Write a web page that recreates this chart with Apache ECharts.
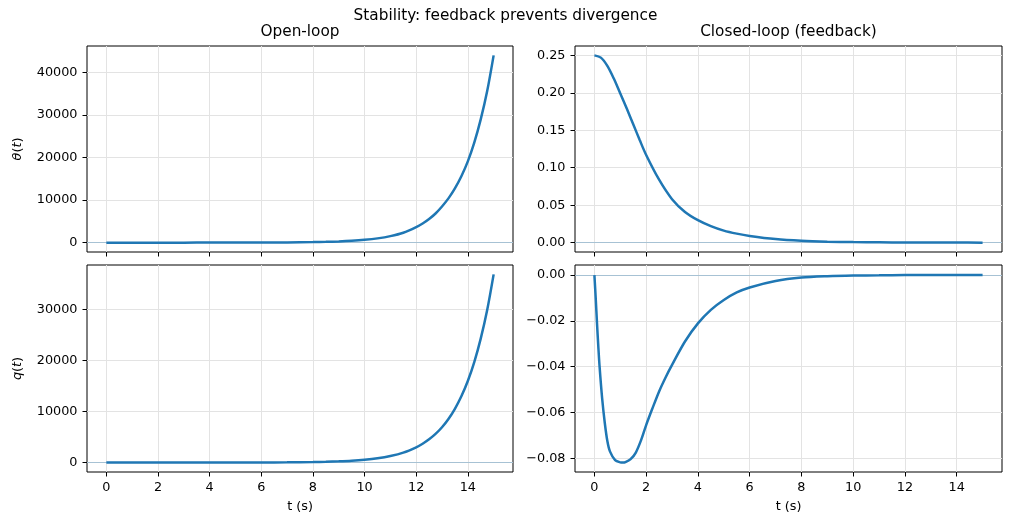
<!DOCTYPE html>
<html>
<head>
<meta charset="utf-8">
<script src="https://cdn.jsdelivr.net/npm/echarts@6/dist/echarts.min.js"></script>
<style>
html,body{margin:0;padding:0;background:#fff;}
#chart{width:1011px;height:525px;}
</style>
</head>
<body>
<div id="chart"></div>
<script>
// ---- Data ----
var OL_T = [0,1,2,3,4,5,6,7,8,8.5,9,9.5,10,10.5,11,11.5,12,12.25,12.5,12.75,13,13.25,13.5,13.75,14,14.25,14.5,14.75,15];
var OL_THETA = [0.25,0.4,0.8,1.9,4.3,10,23,53,123,187,285,434,660,1000,1530,2330,3650,4500,5550,6850,8500,10400,12750,15600,19100,23500,28950,35600,44000];
var OL_Q = [0,0.2,0.6,1.5,3.5,8,19,44,103,157,240,360,550,835,1280,1950,3000,3700,4560,5620,6930,8550,10550,13000,16000,19700,24300,29900,36900];

var CL_T_THETA = [0,0.25,0.5,0.75,1,1.25,1.5,1.75,2,2.5,3,3.5,4,4.5,5,5.5,6,7,8,9,10,11,12,13,14,15];
var CL_THETA = [0.25,0.247,0.236,0.219,0.199,0.179,0.158,0.137,0.117,0.084,0.058,0.041,0.030,0.022,0.016,0.012,0.009,0.0048,0.0025,0.0013,0.0007,0.0004,0.0002,0.0001,0.0001,0.0];

var CL_T_Q = [0,0.05,0.1,0.15,0.2,0.3,0.4,0.5,0.6,0.8,1.0,1.1,1.2,1.4,1.6,1.8,2.0,2.25,2.5,2.75,3.0,3.5,4.0,4.5,5,5.5,6,7,8,9,10,11,12,13,14,15];
var CL_Q = [0,-0.010,-0.021,-0.031,-0.040,-0.054,-0.0645,-0.0725,-0.0770,-0.0808,-0.0818,-0.0819,-0.0817,-0.0804,-0.0775,-0.0722,-0.0655,-0.058,-0.0508,-0.0447,-0.0392,-0.029,-0.0211,-0.0152,-0.0109,-0.0076,-0.0054,-0.0026,-0.0011,-0.0005,-0.0002,-0.0001,0,0,0,0];

var X_TICKS = [0,2,4,6,8,10,12,14];
var Y_TICKS_OL_THETA = [0,10000,20000,30000,40000];
var Y_TICKS_OL_Q = [0,10000,20000,30000];
var Y_TICKS_CL_THETA = [0,0.05,0.10,0.15,0.20,0.25];
var Y_TICKS_CL_Q = [-0.08,-0.06,-0.04,-0.02,0];

var TITLE = 'Stability: feedback prevents divergence';
var SUB_TITLES = ['Open-loop','Closed-loop (feedback)'];
var X_NAME = 't (s)';

// ---- Chart ----
var FONT = 'DejaVu Sans';
var TICK_FS = 12.8;
var BLUE = '#1f77b4';

function pairs(t, v){ var r=[]; for(var i=0;i<t.length;i++) r.push([t[i], v[i]]); return r; }
function fmtInt(v){ return String(Math.round(v)); }
function fmt2(v){ var s = (Math.abs(v) < 1e-9 ? 0 : v).toFixed(2); return s.replace('-', '\u2212'); }

var grids = [
  {left:87, top:46, width:426, height:206},
  {left:575, top:46, width:427, height:206},
  {left:87, top:265, width:426, height:207},
  {left:575, top:265, width:427, height:207}
];
grids.forEach(function(g){ g.show=true; g.borderColor='#000'; g.borderWidth=1; g.backgroundColor='transparent'; g.containLabel=false; });

function xAxis(idx, showLabels){
  return {
    type:'value', gridIndex:idx, min:-0.75, max:15.75,
    minInterval:2, maxInterval:2, splitNumber:8,
    axisLine:{show:false, onZero:false},
    axisTick:{show:true, length:4.5, lineStyle:{color:'#000', width:1}, customValues:X_TICKS},
    axisLabel:{show:showLabels, customValues:X_TICKS, margin:9, color:'#000', fontFamily:FONT, fontSize:TICK_FS,
      showMinLabel:true, showMaxLabel:true, formatter:function(v){return String(v);}},
    splitLine:{show:true, lineStyle:{color:'#e3e3e3', width:1}},
    name: showLabels ? X_NAME : '', nameLocation:'middle', nameGap:28,
    nameTextStyle:{color:'#000', fontFamily:FONT, fontSize:TICK_FS}
  };
}
function yAxis(idx, min, max, interval, ticks, fmt, name){
  return {
    type:'value', gridIndex:idx, min:min, max:max,
    minInterval:interval, maxInterval:interval, splitNumber:5,
    axisLine:{show:false, onZero:false},
    axisTick:{show:true, length:4.5, lineStyle:{color:'#000', width:1}, customValues:ticks},
    axisLabel:{show:true, customValues:ticks, margin:9.5, color:'#000', fontFamily:FONT, fontSize:TICK_FS, formatter:fmt},
    splitLine:{show:true, lineStyle:{color:'#e3e3e3', width:1}},
    name:name || '', nameLocation:'middle', nameGap:63,
    nameTextStyle:{color:'#000', fontFamily:FONT, fontSize:TICK_FS,
      rich:{i:{fontStyle:'italic', fontFamily:FONT, fontSize:TICK_FS, color:'#000'}, n:{fontFamily:FONT, fontSize:TICK_FS, color:'#000'}}}
  };
}

function lineSeries(idx, data){
  return {
    type:'line', xAxisIndex:idx, yAxisIndex:idx, data:data,
    showSymbol:false, symbol:'none', smooth:0.3, z:3,
    lineStyle:{color:BLUE, width:2.5}, itemStyle:{color:BLUE},
    silent:true, animation:false,
    markLine:{silent:true, symbol:['none','none'], z:1, label:{show:false},
      lineStyle:{color:'rgba(31,119,180,0.3)', width:1, type:'solid'},
      data:[{yAxis:0}]}
  };
}

var chart = echarts.init(document.getElementById('chart'), null, {renderer:'canvas'});
chart.setOption({
  animation:false,
  backgroundColor:'#fff',
  grid:grids,
  xAxis:[xAxis(0,false), xAxis(1,false), xAxis(2,true), xAxis(3,true)],
  yAxis:[
    yAxis(0, -2200, 46200, 10000, Y_TICKS_OL_THETA, fmtInt, '{i|θ}{n|(}{i|t}{n|)}'),
    yAxis(1, -0.0125, 0.2625, 0.05, Y_TICKS_CL_THETA, fmt2, ''),
    yAxis(2, -1845, 38745, 10000, Y_TICKS_OL_Q, fmtInt, '{i|q}{n|(}{i|t}{n|)}'),
    yAxis(3, -0.0860, 0.0044, 0.02, Y_TICKS_CL_Q, fmt2, '')
  ],
  series:[
    lineSeries(0, pairs(OL_T, OL_THETA)),
    lineSeries(1, pairs(CL_T_THETA, CL_THETA)),
    lineSeries(2, pairs(OL_T, OL_Q)),
    lineSeries(3, pairs(CL_T_Q, CL_Q))
  ],
  graphic:[
    {type:'text', left:'center', top:9, style:{text:TITLE, fill:'#000', font:'15.3px "DejaVu Sans"'}},
    {type:'text', x:300, y:32, style:{text:SUB_TITLES[0], fill:'#000', font:'15.3px "DejaVu Sans"', textAlign:'center', textVerticalAlign:'middle'}},
    {type:'text', x:788.5, y:32, style:{text:SUB_TITLES[1], fill:'#000', font:'15.3px "DejaVu Sans"', textAlign:'center', textVerticalAlign:'middle'}}
  ]
});
</script>
</body>
</html>
